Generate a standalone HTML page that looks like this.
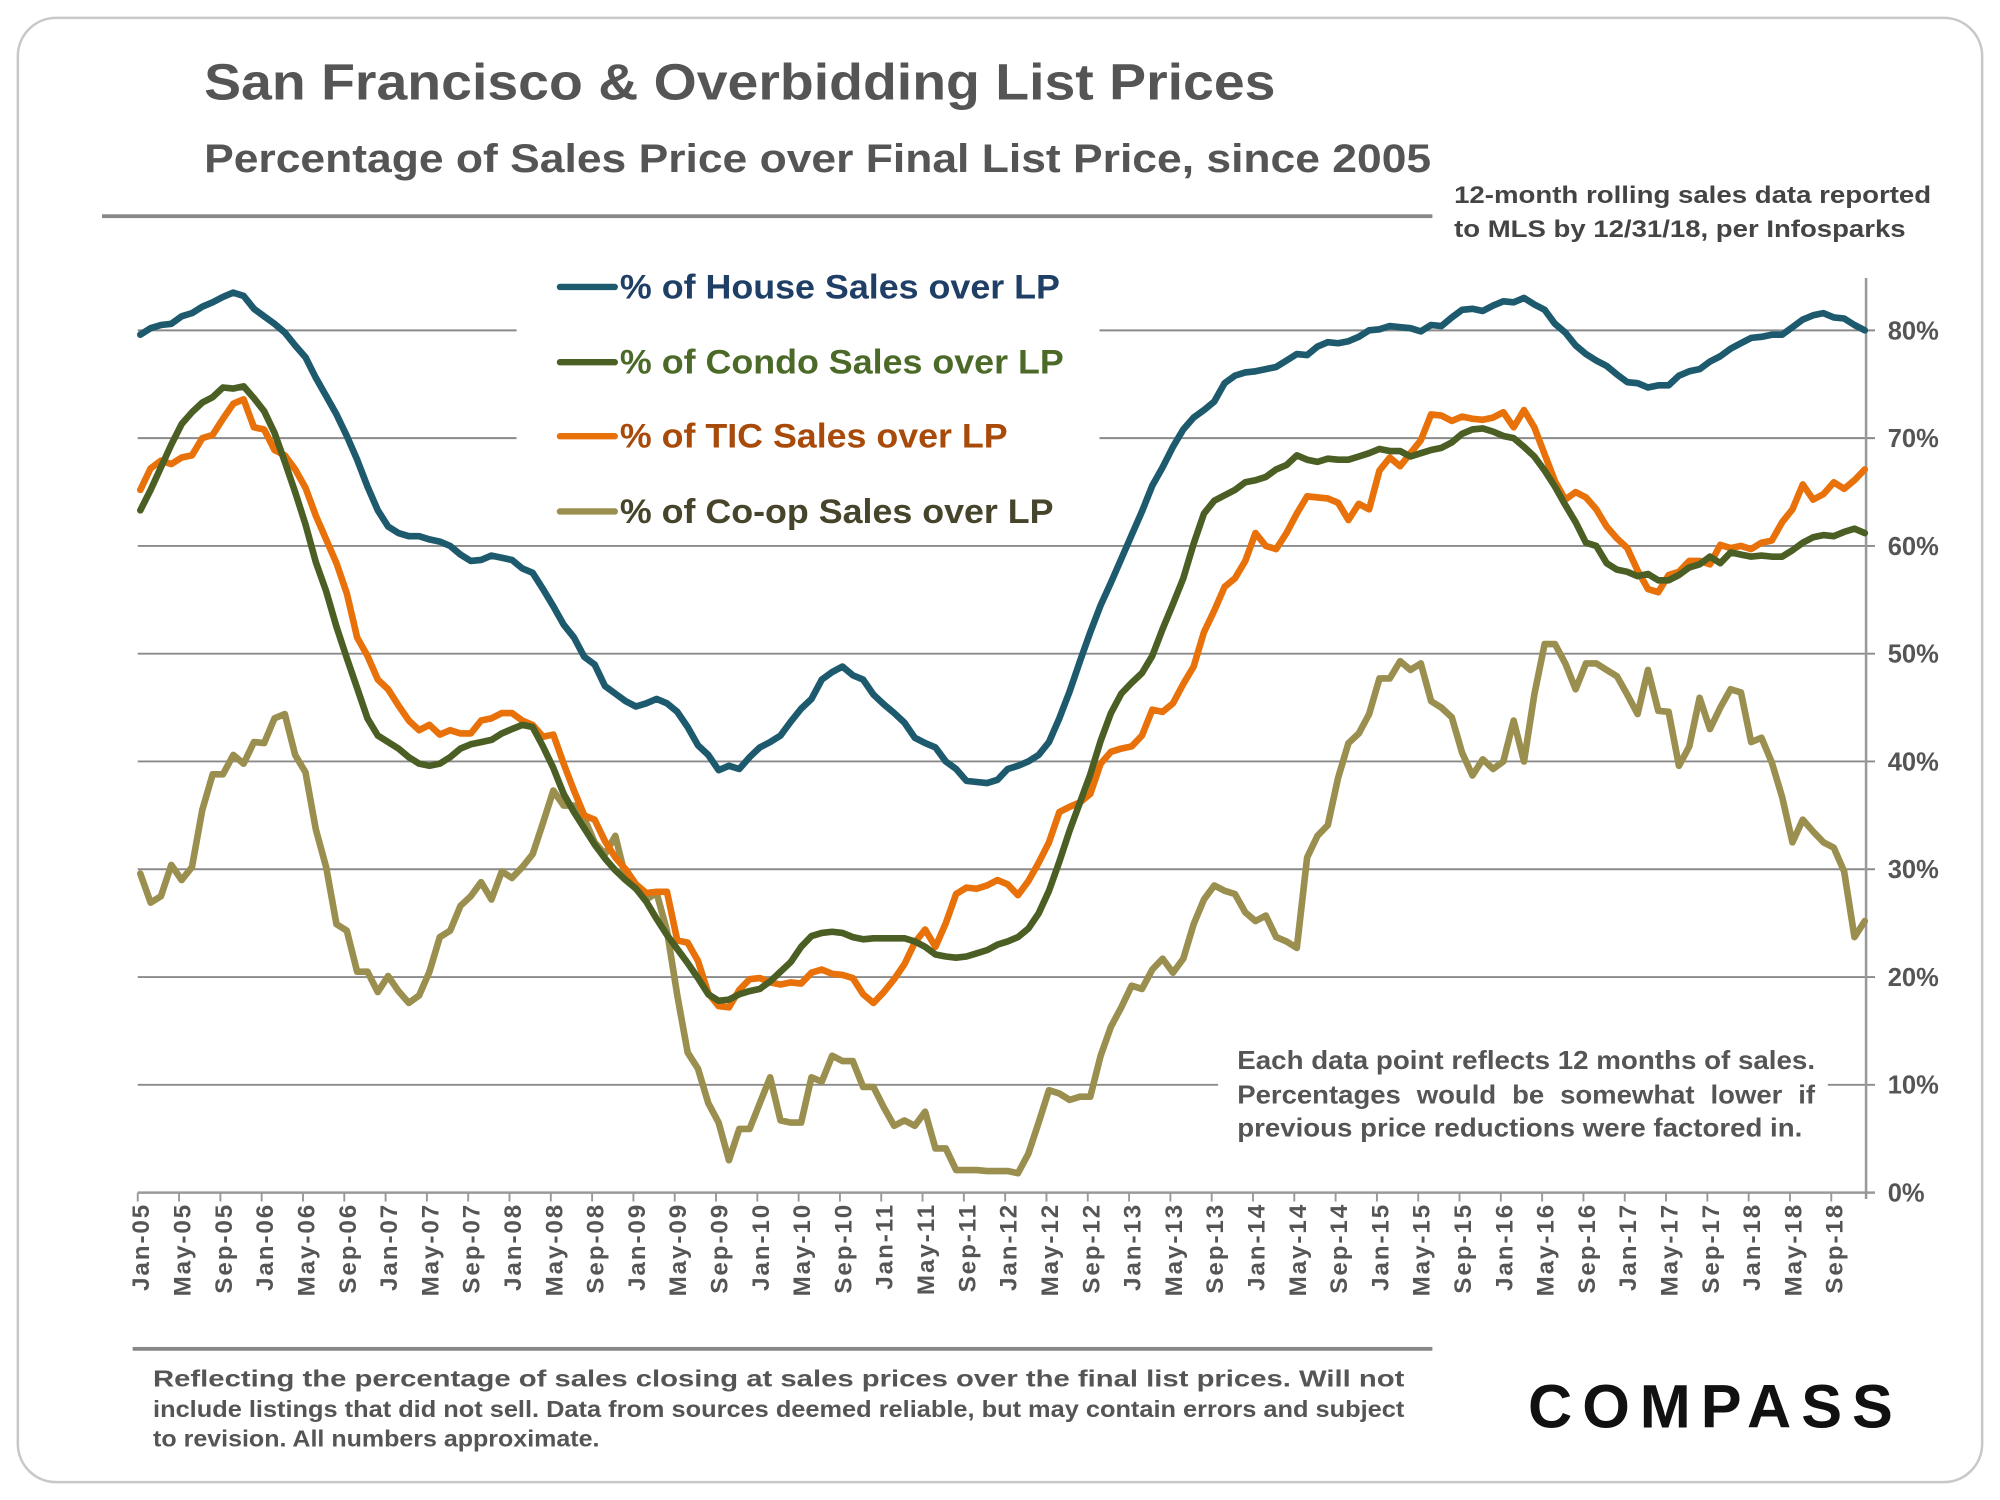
<!DOCTYPE html>
<html><head><meta charset="utf-8"><style>
html,body{margin:0;padding:0;background:#fff;}
svg{display:block;}
text{font-family:"Liberation Sans",Arial,sans-serif;font-weight:bold;}
</style></head><body>
<svg id="chart" width="2000" height="1500" viewBox="0 0 1568 1176" xmlns="http://www.w3.org/2000/svg">
<rect x="14" y="14" width="1540" height="1148" rx="30" fill="#fff" stroke="#c8c8c8" stroke-width="2"/>
<text x="160" y="78" font-size="40" fill="#555" textLength="840" lengthAdjust="spacingAndGlyphs">San Francisco &amp; Overbidding List Prices</text>
<text x="160" y="135" font-size="31" fill="#555" textLength="962" lengthAdjust="spacingAndGlyphs">Percentage of Sales Price over Final List Price, since 2005</text>
<rect x="80" y="168" width="1043" height="3" fill="#888"/>
<text font-size="19" fill="#444"><tspan x="1140" y="159" textLength="374" lengthAdjust="spacingAndGlyphs">12-month rolling sales data reported</tspan><tspan x="1140" y="186" textLength="354" lengthAdjust="spacingAndGlyphs">to MLS by 12/31/18, per Infosparks</tspan></text>
<g id="grid"></g>
<g id="yaxis"></g>
<g id="xaxis"></g>
<rect x="955" y="812" width="478" height="90" fill="#fff"/>
<text font-size="20" fill="#555"><tspan x="970" y="838" textLength="453" lengthAdjust="spacingAndGlyphs">Each data point reflects 12 months of sales.</tspan><tspan x="970" y="865" textLength="453" lengthAdjust="spacingAndGlyphs" word-spacing="6">Percentages would be somewhat lower if</tspan><tspan x="970" y="891" textLength="443" lengthAdjust="spacingAndGlyphs">previous price reductions were factored in.</tspan></text>
<g id="series"></g>
<rect x="405" y="195" width="457" height="230" fill="#fff"/>
<g id="legend"></g>
<rect x="104" y="1056" width="1019" height="3" fill="#888"/>
<text font-size="18" fill="#555"><tspan x="120" y="1087" textLength="981" lengthAdjust="spacingAndGlyphs">Reflecting the percentage of sales closing at sales prices over the final list prices. Will not</tspan><tspan x="120" y="1111" textLength="981" lengthAdjust="spacingAndGlyphs">include listings that did not sell. Data from sources deemed reliable, but may contain errors and subject</tspan><tspan x="120" y="1134" textLength="350" lengthAdjust="spacingAndGlyphs">to revision. All numbers approximate.</tspan></text>
<text x="1198" y="1119" font-size="48" fill="#111" textLength="286" lengthAdjust="spacing">COMPASS</text>
</svg>
<script>
const months = ["Jan","Feb","Mar","Apr","May","Jun","Jul","Aug","Sep","Oct","Nov","Dec"];
const yTicks = [0,10,20,30,40,50,60,70,80];
const seriesNames = ["% of House Sales over LP","% of Condo Sales over LP","% of TIC Sales over LP","% of Co-op Sales over LP"];
const houseValues = [79.6,80.2,80.5,80.6,81.3,81.6,82.2,82.6,83.1,83.5,83.2,82.0,
81.3,80.6,79.8,78.6,77.5,75.6,73.9,72.2,70.2,68.0,65.5,63.3,
61.8,61.2,60.9,60.9,60.6,60.4,60.0,59.2,58.6,58.7,59.1,58.9,
58.7,57.9,57.5,56.0,54.4,52.7,51.5,49.7,49.0,47.0,46.3,45.6,
45.1,45.4,45.8,45.4,44.6,43.2,41.5,40.6,39.2,39.6,39.3,40.4,
41.3,41.8,42.4,43.7,44.9,45.8,47.6,48.3,48.8,48.0,47.6,46.2,
45.3,44.5,43.6,42.2,41.7,41.3,40.0,39.3,38.2,38.1,38.0,38.3,
39.3,39.6,40.0,40.6,41.8,44.0,46.5,49.3,52.0,54.5,56.6,58.8,
61.0,63.2,65.6,67.3,69.2,70.8,71.9,72.6,73.4,75.1,75.8,76.1,
76.2,76.4,76.6,77.2,77.8,77.7,78.5,78.9,78.8,79.0,79.4,80.0,
80.1,80.4,80.3,80.2,79.9,80.5,80.4,81.2,81.9,82.0,81.8,82.3,
82.7,82.6,83.0,82.4,81.9,80.6,79.8,78.6,77.8,77.2,76.7,75.9,
75.2,75.1,74.7,74.9,74.9,75.8,76.2,76.4,77.1,77.6,78.3,78.8,
79.3,79.4,79.6,79.6,80.3,81.0,81.4,81.6,81.2,81.1,80.5,80.0];
const condoValues = [63.3,65.2,67.3,69.4,71.3,72.4,73.3,73.8,74.7,74.6,74.8,73.7,
72.5,70.5,67.8,65.0,62.0,58.5,55.8,52.5,49.6,46.8,44.0,42.4,
41.8,41.2,40.4,39.8,39.6,39.8,40.4,41.2,41.6,41.8,42.0,42.6,
43.0,43.4,43.2,41.4,39.4,37.0,35.3,33.8,32.3,31.0,29.9,29.0,
28.2,27.0,25.4,23.9,22.6,21.3,19.9,18.4,17.8,17.9,18.4,18.7,
18.9,19.6,20.5,21.4,22.8,23.8,24.1,24.2,24.1,23.7,23.5,23.6,
23.6,23.6,23.6,23.3,22.8,22.1,21.9,21.8,21.9,22.2,22.5,23.0,
23.3,23.7,24.5,25.9,28.0,30.7,33.6,36.2,38.8,41.9,44.5,46.3,
47.3,48.2,49.8,52.3,54.6,57.0,60.2,63.0,64.2,64.7,65.2,65.9,
66.1,66.4,67.1,67.5,68.4,68.0,67.8,68.1,68.0,68.0,68.3,68.6,
69.0,68.8,68.8,68.3,68.6,68.9,69.1,69.6,70.4,70.8,70.9,70.6,
70.2,70.0,69.2,68.3,67.0,65.5,63.8,62.2,60.3,60.0,58.4,57.8,
57.6,57.2,57.4,56.8,56.8,57.3,58.0,58.3,59.0,58.4,59.4,59.2,
59.0,59.1,59.0,59.0,59.6,60.3,60.8,61.0,60.9,61.3,61.6,61.2];
const ticValues = [65.2,67.2,67.9,67.6,68.2,68.4,70.0,70.3,71.8,73.2,73.6,71.0,
70.8,68.9,68.4,67.1,65.4,62.8,60.6,58.4,55.6,51.5,49.8,47.6,
46.7,45.2,43.8,42.9,43.4,42.5,42.9,42.6,42.6,43.8,44.0,44.5,
44.5,43.8,43.4,42.3,42.5,39.8,37.3,35.0,34.6,32.6,31.1,30.0,
28.6,27.8,27.9,27.9,23.4,23.2,21.5,18.5,17.3,17.2,18.8,19.8,
19.9,19.5,19.3,19.5,19.4,20.4,20.7,20.3,20.2,19.9,18.4,17.6,
18.6,19.8,21.2,23.2,24.4,22.8,25.0,27.7,28.3,28.2,28.5,29.0,
28.6,27.6,28.9,30.6,32.5,35.3,35.8,36.2,37.0,39.8,40.9,41.2,
41.4,42.4,44.8,44.6,45.4,47.2,48.8,52.0,54.0,56.2,57.0,58.6,
61.2,60.0,59.7,61.2,63.0,64.6,64.5,64.4,64.0,62.4,63.9,63.4,
67.0,68.2,67.4,68.6,69.8,72.2,72.1,71.6,72.0,71.8,71.7,71.9,
72.4,71.0,72.6,71.0,68.5,66.0,64.3,65.0,64.5,63.4,61.8,60.7,
59.8,57.7,56.0,55.7,57.3,57.6,58.6,58.6,58.3,60.1,59.8,60.0,
59.7,60.3,60.5,62.2,63.4,65.7,64.3,64.8,65.9,65.3,66.1,67.1];
const coopValues = [29.6,26.9,27.5,30.4,29.0,30.2,35.5,38.8,38.8,40.6,39.8,41.8,
41.7,44.0,44.4,40.6,39.0,33.7,30.2,24.9,24.3,20.5,20.5,18.6,
20.1,18.7,17.6,18.3,20.5,23.7,24.3,26.6,27.5,28.8,27.2,29.8,
29.2,30.2,31.4,34.3,37.3,35.9,35.9,34.7,32.5,31.4,33.1,29.2,
28.4,27.2,27.8,24.3,18.3,13.0,11.5,8.3,6.5,3.0,5.9,5.9,
8.3,10.7,6.7,6.5,6.5,10.7,10.3,12.7,12.2,12.2,9.8,9.8,
7.9,6.2,6.7,6.2,7.5,4.1,4.1,2.1,2.1,2.1,2.0,2.0,
2.0,1.8,3.6,6.5,9.5,9.2,8.6,8.9,8.9,12.7,15.4,17.2,
19.2,18.9,20.7,21.7,20.4,21.7,24.9,27.2,28.5,28.0,27.7,26.0,
25.2,25.7,23.7,23.3,22.7,31.1,33.1,34.1,38.5,41.7,42.6,44.4,
47.7,47.7,49.3,48.5,49.1,45.6,45.0,44.1,40.8,38.7,40.2,39.3,
40.0,43.8,40.0,46.2,50.9,50.9,49.1,46.7,49.1,49.1,48.5,47.9,
46.2,44.4,48.5,44.7,44.6,39.6,41.4,45.9,43.0,45.0,46.7,46.4,
41.8,42.2,39.9,36.7,32.5,34.6,33.5,32.5,32.0,29.8,23.7,25.2];

const NS = "http://www.w3.org/2000/svg";
const X0 = 110, X1 = 1462, Y0 = 935, Y80 = 259;
const nPts = houseValues.length;
function xPos(i){ return X0 + i*(X1-X0)/(nPts-1); }
function yPos(v){ return Y0 - v*(Y0-Y80)/80; }
function mk(tag, attrs, parent){ const e=document.createElementNS(NS,tag); for(const k in attrs) e.setAttribute(k,attrs[k]); parent.appendChild(e); return e; }

const grid = document.getElementById('grid');
const yaxis = document.getElementById('yaxis');
yTicks.forEach(t=>{
  const y = yPos(t);
  if(t>0){
    const g = mk('line',{x1:108,x2:1470,y1:y,y2:y,stroke:'#8a8a8a','stroke-width':1.5},grid);
    
    
  }
  const lab = mk('text',{x:1480,y:y+7,'font-size':20,fill:'#555'},yaxis);
  lab.textContent = t+'%';
  
  
});
const ya = mk('line',{x1:1463,x2:1463,y1:218,y2:940,stroke:'#999','stroke-width':2},yaxis);



const xaxis = document.getElementById('xaxis');
const xl = mk('line',{x1:108,x2:1470,y1:Y0,y2:Y0,stroke:'#999','stroke-width':2},xaxis);


for(let i=0;i<nPts;i+=4){
  const x = xPos(i);
  const tk = mk('line',{x1:x-2,x2:x-2,y1:Y0,y2:Y0+7,stroke:'#999','stroke-width':1.5},xaxis);
  
  
  const yr = 5 + Math.floor(i/12);
  const lbl = months[i%12] + '-' + String(yr).padStart(2,'0');
  const t = mk('text',{x:0,y:0,'font-size':19,'letter-spacing':1.5,fill:'#555','text-anchor':'end',transform:`translate(${x+7},943) rotate(-90)`},xaxis);
  t.textContent = lbl;
  
  
}

const series = document.getElementById('series');
const seriesData = [coopValues, ticValues, condoValues, houseValues];
const seriesColors = ['#9a8f4f','#e8710a','#4b5f24','#1d5a6e'];
const seriesKeys = ['coop','tic','condo','house'];
seriesData.forEach((vals,si)=>{
  const d = vals.map((v,i)=>(i?'L':'M')+xPos(i).toFixed(1)+','+yPos(v).toFixed(1)).join(' ');
  const p = mk('path',{d:d,fill:'none',stroke:seriesColors[si],'stroke-width':5.2,'stroke-linejoin':'round','stroke-linecap':'round'},series);
  
  
});

const legend = document.getElementById('legend');
const legLine = ['#1d5a6e','#4b5f24','#e8710a','#9a8f4f'];
const legText = ['#1f3f66','#4b6a28','#a84a0a','#46442a'];
const legY = [225,284,342,401];
const legW = [345,348,304,340];
const legKeys = ['house','condo','tic','coop'];
seriesNames.forEach((n,i)=>{
  const l = mk('line',{x1:439,x2:482,y1:legY[i],y2:legY[i],stroke:legLine[i],'stroke-width':5,'stroke-linecap':'round'},legend);
  
  
  const t = mk('text',{x:486,y:legY[i]+9,'font-size':27,fill:legText[i],textLength:legW[i],lengthAdjust:'spacingAndGlyphs'},legend);
  t.textContent = n;
  
  
});
</script>
</body></html>
